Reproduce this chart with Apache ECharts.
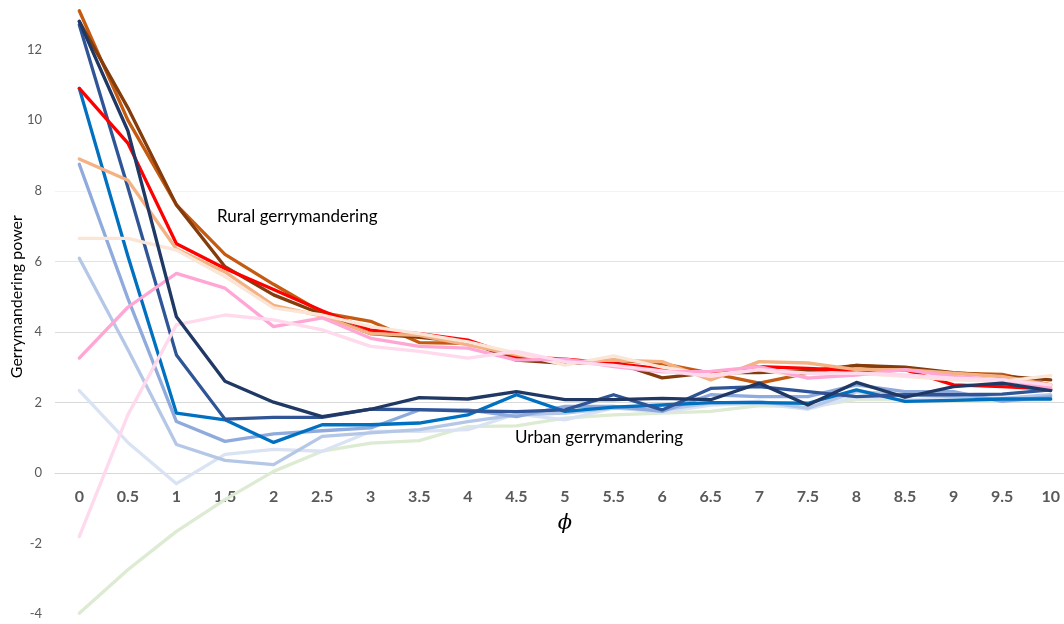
<!DOCTYPE html>
<html>
<head>
<meta charset="utf-8">
<script src="https://cdn.jsdelivr.net/npm/echarts@6/dist/echarts.min.js"></script>
<style>
html,body{margin:0;padding:0;background:#fff;}
#chart{width:1064px;height:624px;}
</style>
</head>
<body>
<div id="chart"></div>
<script>
// x categories (phi)
var phi = ['0','0.5','1','1.5','2','2.5','3','3.5','4','4.5','5','5.5','6','6.5','7','7.5','8','8.5','9','9.5','10'];

// urban group
var greenLine   = [-3.97,-2.74,-1.65,-0.75,0.05,0.62,0.85,0.92,1.32,1.34,1.56,1.65,1.70,1.75,1.91,1.87,2.08,2.08,2.03,2.05,2.08];
var paleBlue    = [2.34,0.87,-0.30,0.53,0.67,0.62,1.18,1.18,1.23,1.68,1.51,1.85,1.72,1.93,1.98,1.81,2.17,2.08,2.12,2.10,2.15];
var lighterBlue = [6.09,3.50,0.81,0.36,0.24,1.04,1.14,1.23,1.46,1.65,1.70,1.84,1.79,1.98,2.03,1.84,2.31,2.22,2.17,2.12,2.22];
var lightBlue   = [8.75,4.95,1.46,0.90,1.11,1.20,1.28,1.79,1.79,1.60,1.89,1.89,1.75,2.22,2.17,2.17,2.50,2.31,2.31,2.03,2.17];
var blue        = [10.9,6.15,1.70,1.51,0.87,1.37,1.37,1.42,1.65,2.22,1.75,1.87,1.93,2.00,2.00,1.98,2.36,2.03,2.06,2.10,2.10];
var mediumBlue  = [12.7,8.10,3.35,1.53,1.58,1.58,1.81,1.80,1.76,1.74,1.79,2.22,1.79,2.40,2.45,2.31,2.17,2.22,2.22,2.24,2.36];
var navy        = [12.8,9.70,4.43,2.60,2.01,1.60,1.81,2.14,2.10,2.31,2.08,2.08,2.12,2.08,2.55,1.93,2.57,2.15,2.45,2.55,2.34];

// rural group
var orangeBrown = [13.1,10.0,7.60,6.20,5.35,4.55,4.30,3.70,3.68,3.30,3.11,3.20,3.10,2.83,2.55,2.83,3.05,2.97,2.83,2.80,2.50];
var darkBrown   = [12.8,10.35,7.60,5.85,5.05,4.50,3.95,3.85,3.72,3.20,3.11,3.15,2.70,2.85,2.85,2.90,3.05,3.00,2.85,2.75,2.64];
var red         = [10.9,9.35,6.50,5.80,5.20,4.60,4.05,3.95,3.77,3.30,3.23,3.11,2.95,2.83,3.02,2.97,2.90,2.93,2.50,2.45,2.38];
var salmon      = [8.90,8.30,6.35,5.70,4.75,4.45,3.95,3.90,3.63,3.35,3.16,3.20,3.16,2.64,3.16,3.12,2.93,2.93,2.83,2.74,2.50];
var peach       = [6.65,6.65,6.32,5.57,4.68,4.48,4.15,3.95,3.72,3.40,3.06,3.32,3.00,2.78,2.93,2.70,2.83,2.74,2.64,2.60,2.76];
var pink        = [3.26,4.70,5.66,5.24,4.15,4.40,3.82,3.59,3.54,3.20,3.23,3.02,2.87,2.88,3.02,2.69,2.78,2.93,2.74,2.64,2.41];
var lightPink   = [-1.8,1.65,4.20,4.48,4.34,4.06,3.59,3.45,3.26,3.45,3.16,3.05,2.90,2.74,2.93,2.83,2.83,2.78,2.69,2.64,2.50];

var yTicks = [-4,-2,0,2,4,6,8,10,12,14];

var seriesDefs = [
  ['Urban 7', greenLine, '#dcebd2'],
  ['Urban 6', paleBlue, '#dae3f3'],
  ['Urban 5', lighterBlue, '#b4c7e7'],
  ['Urban 4', lightBlue, '#8faadc'],
  ['Urban 3', blue, '#0070c0'],
  ['Urban 2', mediumBlue, '#2f5597'],
  ['Rural 1', orangeBrown, '#c55a11'],
  ['Rural 2', darkBrown, '#843c0c'],
  ['Rural 3', red, '#ff0000'],
  ['Rural 4', salmon, '#f4b183'],
  ['Rural 5', peach, '#fbe5d6'],
  ['Rural 6', pink, '#ffa6d5'],
  ['Rural 7', lightPink, '#ffd9ec'],
  ['Urban 1', navy, '#203864']
];

var series = seriesDefs.map(function(d){
  return {
    name: d[0], type: 'line', data: d[1], symbol: 'none', smooth: false,
    lineStyle: {color: d[2], width: 3.3, cap: 'round', join: 'round'},
    itemStyle: {color: d[2]},
    emphasis: {disabled: true},
    animation: false
  };
});

var chart = echarts.init(document.getElementById('chart'), null, {renderer: 'canvas'});
chart.setOption({
  backgroundColor: '#ffffff',
  animation: false,
  grid: {left: 55, right: -11, top: -21, bottom: 9.7, containLabel: false, outerBoundsMode: 'none'},
  xAxis: {
    type: 'category',
    data: phi,
    boundaryGap: true,
    position: 'bottom',
    offset: -141,
    name: '\u03D5',
    nameLocation: 'middle',
    nameGap: 40,
    nameMoveOverlap: false,
    nameTextStyle: {fontFamily: 'DejaVu Serif', fontStyle: 'italic', fontSize: 21, color: '#000'},
    axisLine: {show: true, onZero: false, lineStyle: {color: '#d9d9d9', width: 1}},
    axisTick: {show: false},
    axisLabel: {margin: 16, fontFamily: 'Lato', fontWeight: 'bold', fontSize: 16, color: '#595959'},
    splitLine: {show: false}
  },
  yAxis: {
    type: 'value',
    min: yTicks[0],
    max: yTicks[yTicks.length - 1],
    interval: 2,
    name: 'Gerrymandering power',
    nameLocation: 'middle',
    nameGap: 30,
    nameMoveOverlap: false,
    nameRotate: 90,
    nameTextStyle: {fontFamily: 'Lato', fontSize: 16, color: '#000'},
    axisLine: {show: false},
    axisTick: {show: false},
    axisLabel: {margin: 13, fontFamily: 'Lato', fontSize: 13, color: '#595959'},
    splitLine: {show: true, lineStyle: {width: 1, color: ['rgba(0,0,0,0)','rgba(0,0,0,0)','#d9d9d9','#d9d9d9','#dcdcdc','#e3e3e3','#f3f3f3','rgba(0,0,0,0)','rgba(0,0,0,0)','rgba(0,0,0,0)']}}
  },
  graphic: [
    {type: 'text', left: 217, top: 208, style: {text: 'Rural gerrymandering', font: '17px Lato', fill: '#000'}},
    {type: 'text', left: 515, top: 429, style: {text: 'Urban gerrymandering', font: '17px Lato', fill: '#000'}}
  ],
  series: series
});
</script>
</body>
</html>
